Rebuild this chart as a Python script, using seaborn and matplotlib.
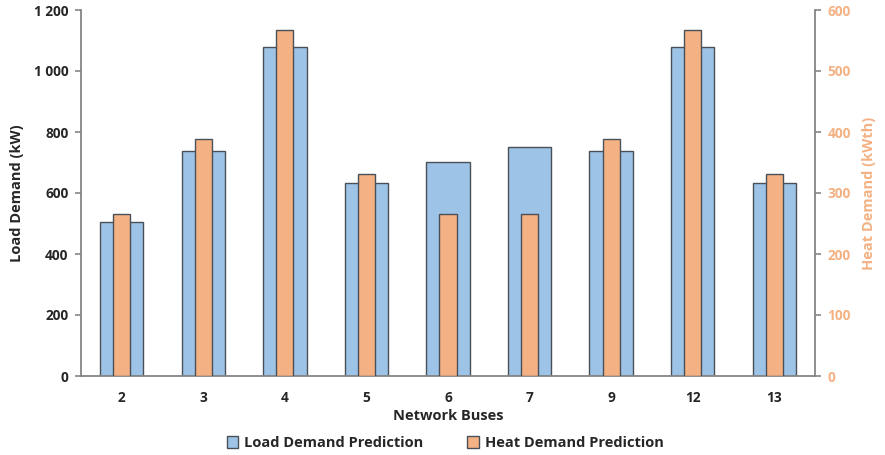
import matplotlib
matplotlib.use("Agg")
import matplotlib.pyplot as plt
import matplotlib.ticker as mticker
from matplotlib.patches import Patch
import seaborn as sns
import pandas as pd

buses = ["2", "3", "4", "5", "6", "7", "9", "12", "13"]
load_kw = [505, 738, 1080, 632, 703, 750, 738, 1080, 632]
heat_kwth = [265, 388, 567, 331, 265, 265, 388, 567, 331]

blue = "#9DC3E6"
orange = "#F4B183"
edge = "#4A5058"
axis_grey = "#858585"

sns.set_theme(style="white")
plt.rcParams["font.family"] = ["Open Sans", "DejaVu Sans"]

df = pd.DataFrame({"bus": buses, "load": load_kw, "heat": heat_kwth})

fig = plt.figure(figsize=(8.85, 4.55), dpi=100)
ax = fig.add_axes([81 / 885, 1 - 376 / 455, (815 - 81) / 885, (376 - 10) / 455])

sns.barplot(data=df, x="bus", y="load", order=buses, ax=ax, color=blue,
            width=0.53, edgecolor=edge, linewidth=1.0, saturation=1)
ax2 = ax.twinx()
sns.barplot(data=df, x="bus", y="heat", order=buses, ax=ax2, color=orange,
            width=0.21, edgecolor=edge, linewidth=1.0, saturation=1)

ax.set_xlim(-0.5, 8.5)
ax.set_ylim(0, 1200)
ax2.set_ylim(0, 600)
ax.yaxis.set_major_locator(mticker.MultipleLocator(200))
ax2.yaxis.set_major_locator(mticker.MultipleLocator(100))
ax.yaxis.set_major_formatter(
    mticker.FuncFormatter(lambda v, p: f"{int(v):,}".replace(",", " ")))

for a in (ax, ax2):
    for s in a.spines.values():
        s.set_visible(False)
    a.grid(False)
ax.spines["left"].set_visible(True)
ax.spines["bottom"].set_visible(True)
ax2.spines["right"].set_visible(True)
for s in (ax.spines["left"], ax.spines["bottom"], ax2.spines["right"]):
    s.set_color(axis_grey)
    s.set_linewidth(1.3)

ax.tick_params(axis="y", which="major", left=True, length=4, width=1.2,
               color=axis_grey, labelsize=9.8, pad=5)
ax.tick_params(axis="x", bottom=False, labelsize=9.8, pad=5)
ax2.tick_params(axis="y", right=True, length=4, width=1.2, color=axis_grey,
                labelsize=9.8, labelcolor=orange, pad=5)
for lab in ax.get_xticklabels() + ax.get_yticklabels() + ax2.get_yticklabels():
    lab.set_fontweight("bold")

ax.set_xlabel("Network Buses", fontsize=10.5, fontweight="bold", labelpad=3)
ax.set_ylabel("Load Demand (kW)", fontsize=10.5, fontweight="bold", labelpad=7)
ax2.set_ylabel("Heat Demand (kWth)", fontsize=10.5, fontweight="bold",
               color=orange, labelpad=8)

handles = [Patch(facecolor=blue, edgecolor=edge, linewidth=1.0),
           Patch(facecolor=orange, edgecolor=edge, linewidth=1.0)]
fig.legend(handles, ["Load Demand Prediction", "Heat Demand Prediction"],
           loc="center", bbox_to_anchor=(445 / 885, 1 - 443 / 455), ncol=2,
           frameon=False, prop={"weight": "bold", "size": 10.5},
           handlelength=0.8, handleheight=0.8, handletextpad=0.4,
           columnspacing=3.0)

fig.savefig("out.png", dpi=100)
